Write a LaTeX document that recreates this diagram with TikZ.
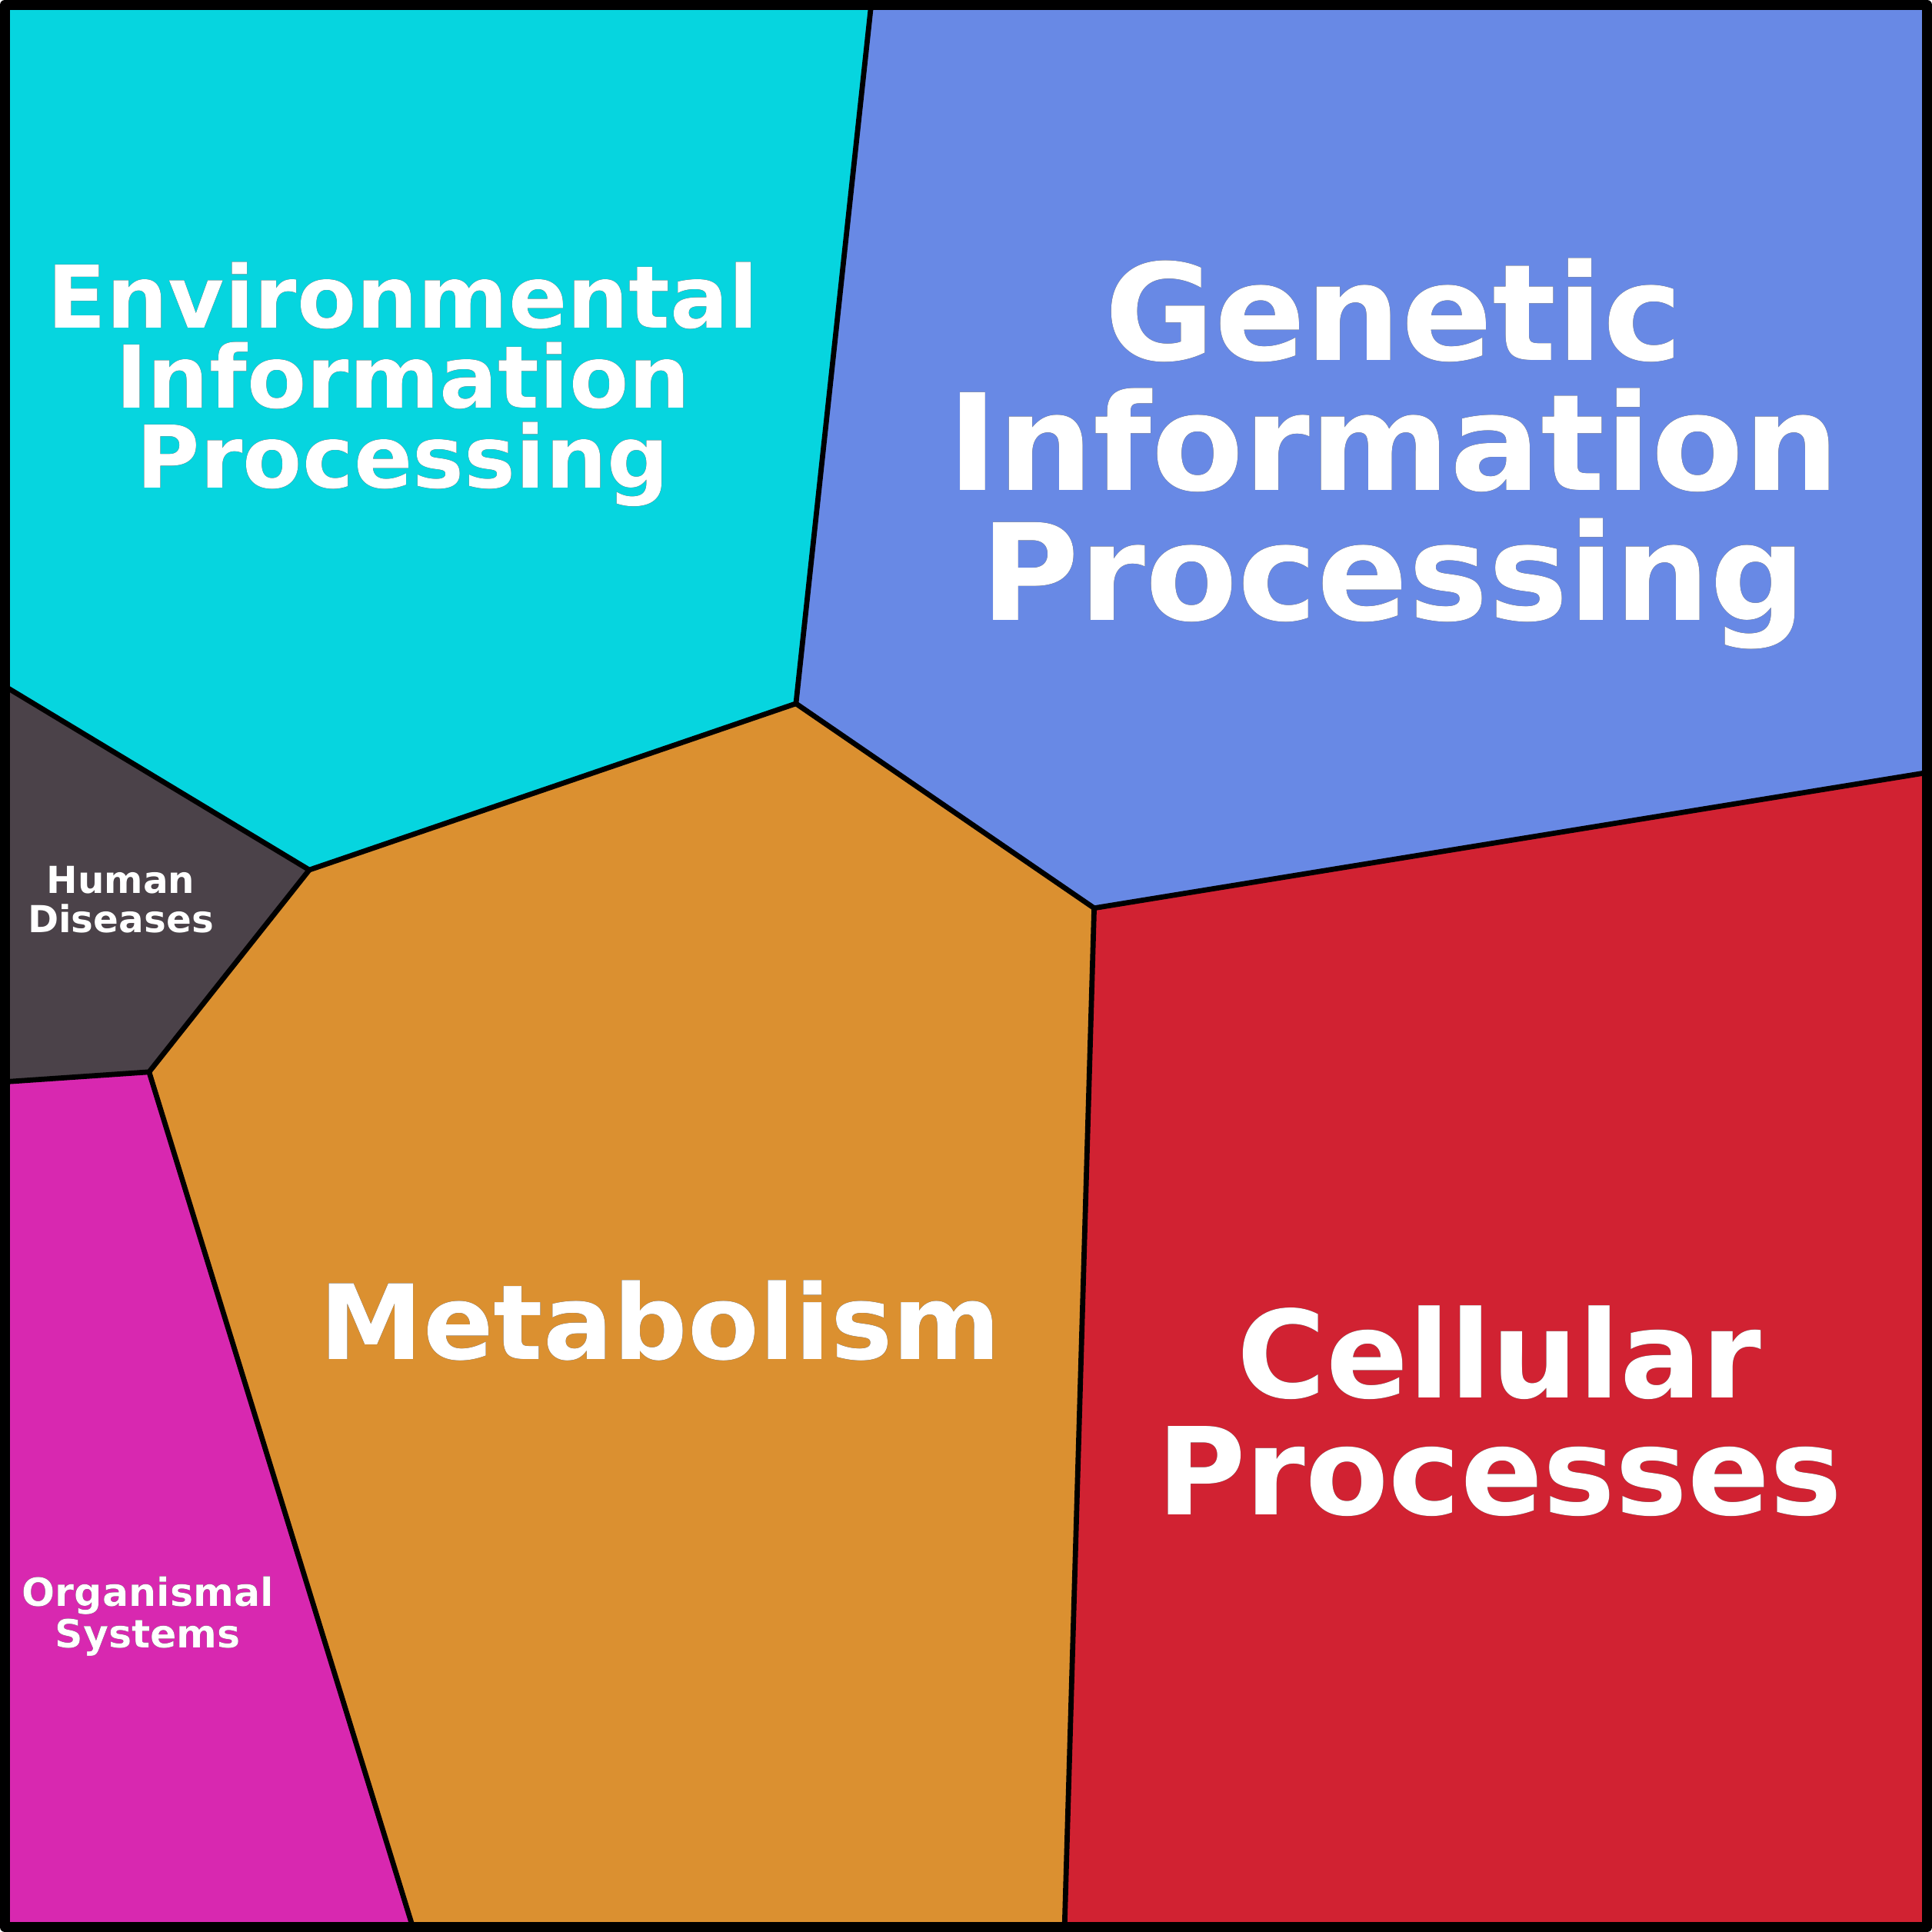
\documentclass[tikz,border=0pt]{standalone}
\usepackage{fontspec}
\setmainfont{DejaVu Sans}
\usepackage[outline]{contour}
\contourlength{0.25pt}
\definecolor{envcol}{HTML}{06D5DF}
\definecolor{gencol}{HTML}{6889E5}
\definecolor{humcol}{HTML}{4B4249}
\definecolor{metcol}{HTML}{DB9030}
\definecolor{celcol}{HTML}{D12232}
\definecolor{orgcol}{HTML}{D828B0}
\newcommand{\lbl}[1]{\contour{black}{#1}}
\tikzset{
  cell/.style={draw=black, line width=1.2pt, line join=round},
  title/.style={text=white, font=\bfseries, align=center, inner sep=0pt}
}
\begin{document}
\begin{tikzpicture}[x=0.01cm, y=-0.01cm]

  \useasboundingbox (0,0) rectangle (1568,1568);

  % corners of the cells
  \coordinate (TL) at (4,4);  \coordinate (TR) at (1564,4);
  \coordinate (BL) at (4,1564); \coordinate (BR) at (1564,1564);
  \coordinate (top) at (707,4);
  \coordinate (ea) at (646,571);
  \coordinate (eb) at (251,706);
  \coordinate (hl) at (4,557);
  \coordinate (hc) at (121,870);
  \coordinate (ol) at (4,878);
  \coordinate (ob) at (335,1564);
  \coordinate (gd) at (888,737);
  \coordinate (gr) at (1564,627);
  \coordinate (cb) at (864,1564);

  \fill[envcol] (TL) -- (top) -- (ea) -- (eb) -- (hl) -- cycle;
  \fill[gencol] (top) -- (TR) -- (gr) -- (gd) -- (ea) -- cycle;
  \fill[humcol] (hl) -- (eb) -- (hc) -- (ol) -- cycle;
  \fill[metcol] (ea) -- (gd) -- (cb) -- (ob) -- (hc) -- (eb) -- cycle;
  \fill[celcol] (gd) -- (gr) -- (BR) -- (cb) -- cycle;
  \fill[orgcol] (ol) -- (hc) -- (ob) -- (BL) -- cycle;

  \draw[cell] (top) -- (ea) -- (eb) -- (hl);
  \draw[cell] (ea) -- (gd) -- (gr);
  \draw[cell] (gd) -- (cb);
  \draw[cell] (eb) -- (hc) -- (ol);
  \draw[cell] (hc) -- (ob);
  \draw[line width=2.4pt, line join=round] (TL) rectangle (BR);

  \node[title, font=\bfseries\fontsize{20}{18.5}\selectfont] (env) at (327,312)
    {\lbl{Environmental}\\\lbl{Information}\\\lbl{Processing}};
  \node[title, font=\bfseries\fontsize{31}{30}\selectfont] (gen) at (1131,368)
    {\lbl{Genetic}\\\lbl{Information}\\\lbl{Processing}};
  \node[title, font=\bfseries\fontsize{24}{24}\selectfont] (met) at (536,1072)
    {\lbl{Metabolism}};
  \node[title, font=\bfseries\fontsize{28}{27}\selectfont] (cel) at (1217,1145)
    {\lbl{Cellular}\\\lbl{Processes}};
  \node[title, font=\bfseries\fontsize{8.6}{9}\selectfont] (hum) at (98,730)
    {\lbl{Human}\\\lbl{Diseases}};
  \node[title, font=\bfseries\fontsize{9}{8.6}\selectfont] (org) at (120,1312)
    {\lbl{Organismal}\\\lbl{Systems}};

\end{tikzpicture}
\end{document}
